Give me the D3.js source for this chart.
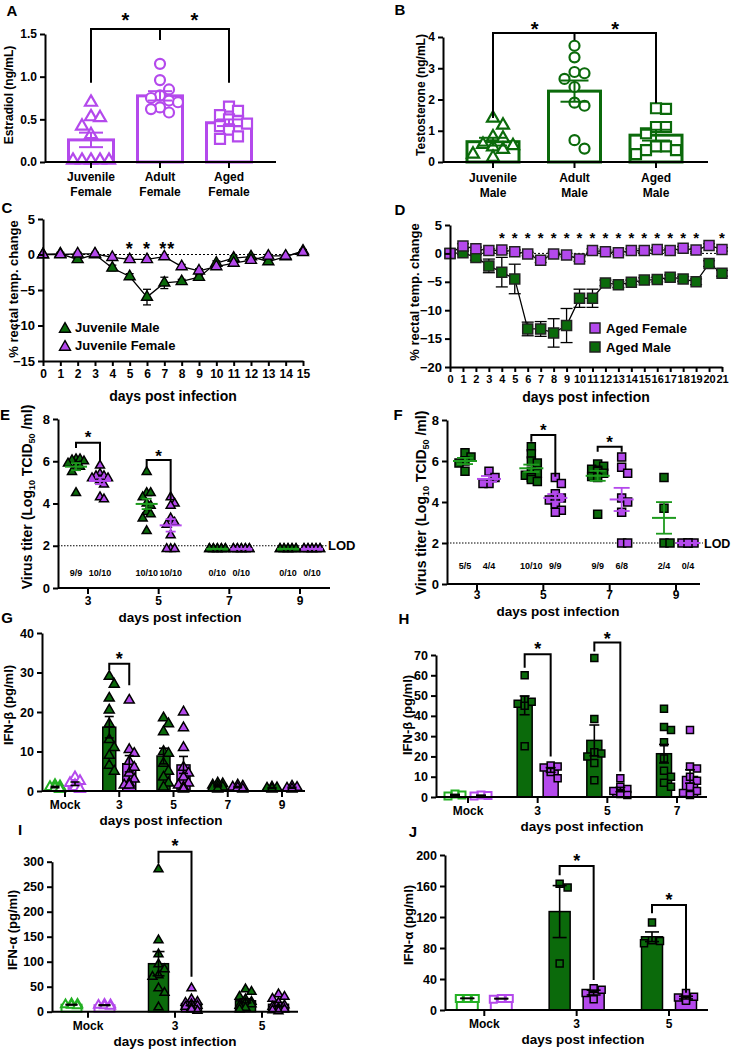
<!DOCTYPE html>
<html><head><meta charset="utf-8">
<script src="https://cdn.jsdelivr.net/npm/d3@7"></script>
<style>body{margin:0;background:#fff}svg{display:block}</style>
</head><body>
<svg id="c" width="731" height="1049"></svg>
<script>
// ---------------- DATA ----------------
// Panel A – Estradiol (ng/mL)
const catsA = ["Juvenile|Female","Adult|Female","Aged|Female"];
const estradiolJuvenile = [0.70,0.53,0.52,0.42,0.32,0.02,0.02,0.02,0.02,0.02];
const estradiolAdult = [1.15,0.96,0.85,0.78,0.75,0.72,0.70,0.64,0.62,0.58];
const estradiolAged = [0.65,0.60,0.55,0.50,0.48,0.45,0.42,0.38,0.30,0.27];
const ticksA = [0,0.5,1.0,1.5];
// Panel B – Testosterone (ng/mL)
const catsB = ["Juvenile|Male","Adult|Male","Aged|Male"];
const testosteroneJuvenile = [1.40,1.18,0.80,0.76,0.56,0.52,0.48,0.40,0.25,0.15];
const testosteroneAdult = [3.72,3.35,2.88,2.84,2.66,2.40,1.90,1.80,0.70,0.43];
const testosteroneAged = [1.72,1.70,1.12,1.12,0.92,0.50,0.50,0.38,0.38,0.25];
const ticksB = [0,1,2,3,4];
// Panel C – % rectal temp change, juvenile
const daysC = [0,1,2,3,4,5,6,7,8,9,10,11,12,13,14,15];
const tempJuvMale = [0,0.1,-0.7,0,-1.9,-3.1,-6.0,-4.0,-3.8,-3.2,-1.2,-0.5,-0.3,-1.0,-0.3,0.5];
const tempJuvMaleSem = [0.1,0.2,0.3,0.2,0.4,0.4,1.1,0.8,0.3,0.3,0.3,0.3,0.3,0.3,0.2,0.2];
const tempJuvFemale = [0,0,0.1,0.1,-0.4,-0.7,-0.7,-0.3,-1.7,-2.3,-1.7,-1.2,-0.8,-0.2,-0.2,0.3];
const tempJuvFemaleSem = [0.1,0.1,0.2,0.2,0.2,0.2,0.2,0.2,0.3,0.3,0.3,0.3,0.2,0.2,0.2,0.2];
const starsC = [5,6,7];
const starTextC = ["*","*","**"];
const ticksCy = [-15,-10,-5,0,5];
// Panel D – % rectal temp change, aged
const daysD = [0,1,2,3,4,5,6,7,8,9,10,11,12,13,14,15,16,17,18,19,20,21];
const tempAgedFemale = [0,1.3,0.8,0.5,0.6,0.3,-0.1,-1.2,-0.1,-0.3,-1.0,0.5,0.3,0.1,0.5,0.5,0.7,0.5,0.9,0.6,1.4,0.7];
const tempAgedFemaleSem = [0.1,0.4,0.3,0.3,0.3,0.3,0.3,0.4,0.3,0.3,0.4,0.3,0.3,0.3,0.3,0.3,0.3,0.3,0.3,0.3,0.3,0.3];
const tempAgedMale = [0,0.1,-0.7,-2.2,-3.3,-4.5,-13.3,-13.3,-14.0,-12.7,-7.9,-7.9,-5.2,-5.5,-5.1,-4.7,-4.6,-4.2,-4.5,-5.0,-1.8,-3.5];
const tempAgedMaleSem = [0.1,0.3,0.5,1.2,2.6,2.6,1.2,1.3,2.5,3.0,1.6,1.6,0.5,0.5,0.4,0.4,0.4,0.4,0.4,0.5,0.5,0.5];
const starsD = [4,5,6,7,8,9,10,11,12,13,14,15,16,17,18,19,21];
const ticksDy = [-20,-15,-10,-5,0,5];
// Panel E – virus titer, juvenile
const titerDays = ["3","5","7","9"];
const titerJuvMale = [[6.1,6.1,6.05,6.0,5.9,5.8,5.75,5.5,4.5],[5.5,4.5,4.5,4.3,4.0,3.9,3.6,3.5,3.3,2.7],
  [1.85,1.85,1.85,1.85,1.85,1.85,1.85,1.85,1.85,1.85],[1.85,1.85,1.85,1.85,1.85,1.85,1.85,1.85,1.85,1.85]];
const titerJuvFemale = [[5.8,5.4,5.3,5.3,5.2,5.2,5.1,4.9,4.3,4.2],[4.3,4.0,3.9,3.3,3.0,3.1,2.5,1.85,1.85,1.85],
  [1.85,1.85,1.85,1.85,1.85,1.85,1.85,1.85,1.85,1.85],[1.85,1.85,1.85,1.85,1.85,1.85,1.85,1.85,1.85,1.85]];
const positiveJuvMale = ["9/9","10/10","0/10","0/10"];
const positiveJuvFemale = ["10/10","10/10","0/10","0/10"];
// Panel F – virus titer, aged
const titerAgedMale = [[6.4,6.2,6.0,5.9,5.5],[6.7,6.35,6.0,5.9,5.5,5.4,5.3,5.2,5.1,5.0],[5.85,5.75,5.6,5.55,5.5,5.4,5.25,5.2,3.4],[5.2,3.7,2.0,2.0]];
const titerAgedFemale = [[5.5,5.2,4.9,4.9],[5.2,4.9,4.4,4.2,4.1,4.0,3.9,3.6,3.5],[6.2,5.7,5.4,4.2,4.0,3.5,2.0,2.0],[2.0,2.0,2.0,2.0]];
const positiveAgedMale = ["5/5","10/10","9/9","2/4"];
const positiveAgedFemale = ["4/4","9/9","6/8","0/4"];
const ticksTiter = [0,2,4,6,8];
const lodValue = 2;
// Panel G – IFN-beta juvenile
const catsG = ["Mock","3","5","7","9"];
const ifnbJuvMale = [[1.5,1.2,1.0,0.8,0.5],[29,27,23.5,20.5,17,13,11,9,6.5,5],[18.5,17,15,10,9.5,7,5,3.5,2,1],[2,1.8,1.5,1.2,1.0,0.8,0.5],[1,0.8,0.7,0.5]];
const ifnbJuvFemale = [[3.5,2.5,2,1.5,1,0.5],[23,10.5,9.5,7.5,6,4.5,3,2,1.5,1.5],[20,16,11,6,4.5,3.5,2,1.5,1,0.5],[1.5,1.2,1.0,0.8,0.5],[1.2,0.9,0.7,0.5]];
const ticksG = [0,10,20,30,40];
// Panel H – IFN-beta aged
const catsH = ["Mock","3","5","7"];
const ifnbAgedMale = [[1.5,1.0,0.5],[60,48,47,46,45,25],[68.5,38.5,22,21.5,20,16.7,8.2],[43.5,34.5,33,27,19,13,10,7,5]];
const ifnbAgedFemale = [[1.0,0.8,0.5],[15.5,15,14.5,12.3,9.3],[9.2,5,4,3,2,1.5,1],[33,15,14,10,8,5,3,2,1]];
const ticksH = [0,10,20,30,40,50,60,70];
// Panel I – IFN-alpha juvenile
const catsI = ["Mock","3","5"];
const ifnaJuvMale = [[16,15,14,13,12],[285,143,115,95,85,73,70,47,38,9],[45,40,30,25,20,18,15,12,8,5]];
const ifnaJuvFemale = [[15,14,13,12,11],[47,25,20,18,15,12,10,8,5,2],[35,30,26,18,13,10,7,5,3,1]];
const ticksI = [0,50,100,150,200,250,300];
// Panel J – IFN-alpha aged
const catsJ = ["Mock","3","5"];
const ifnaAgedMale = [[15,15,15],[163,158,60],[113,90,89,86]];
const ifnaAgedFemale = [[15,15,14],[28,26,22,14],[22,17,16,13,12]];
const ticksJ = [0,40,80,120,160,200];

// ---------------- STYLE / HELPERS ----------------
const GREEN="#0b6a0b", PURPLE="#b449ec", LGREEN="#23b023";
const FONT='"Liberation Sans", Arial, sans-serif';
const svg=d3.select("#c");

function t(x,cy,s,size,anchor){
  return svg.append("text").attr("x",x).attr("y",cy+0.36*size).attr("font-size",size)
    .attr("text-anchor",anchor||"middle").attr("font-weight","bold").attr("font-family",FONT).attr("fill","#000").text(s);
}
function star(x,cy,size){
  svg.append("text").attr("x",x).attr("y",cy+0.57*size).attr("font-size",size).attr("text-anchor","middle")
    .attr("font-weight","bold").attr("font-family",FONT).text("*");
}
function rot(cx,cy,s,size){
  return svg.append("text").attr("transform",`translate(${cx+0.36*size},${cy}) rotate(-90)`)
    .attr("text-anchor","middle").attr("font-size",size).attr("font-weight","bold").attr("font-family",FONT).text(s);
}
function styleAxis(g,size){
  g.attr("font-family",FONT).attr("font-size",size).attr("font-weight","bold");
  g.select(".domain").attr("stroke","#000").attr("stroke-width",2);
  g.selectAll(".tick line").attr("stroke","#000").attr("stroke-width",2);
  g.selectAll(".tick text").attr("fill","#000");
}
function yAxis(x0,y,ticks,fmt,size){
  const g=svg.append("g").attr("transform",`translate(${x0},0)`)
    .call(d3.axisLeft(y).tickValues(ticks).tickFormat(fmt).tickSize(5).tickSizeOuter(0));
  styleAxis(g,size);
}
function catAxis(x,cats,y0,xa,xb,labelCy,size){
  svg.append("line").attr("x1",xa).attr("x2",xb).attr("y1",y0).attr("y2",y0).attr("stroke","#000").attr("stroke-width",2);
  cats.forEach(c=>{
    svg.append("line").attr("x1",x(c)).attr("x2",x(c)).attr("y1",y0).attr("y2",y0+6).attr("stroke","#000").attr("stroke-width",2);
    const parts=c.split("|");
    parts.forEach((p,i)=>t(x(c),labelCy+i*15,p,size));
  });
}
function path(d,w){svg.append("path").attr("d",d).attr("fill","none").attr("stroke","#000").attr("stroke-width",w||2);}
function bracket(xl,xr,yTop,yL,yR,mid){
  path(`M${xl},${yL}V${yTop}H${xr}V${yR}`);
  if(mid) path(`M${mid[0]},${yTop}V${mid[1]}`);
}
const SYM={tri:d3.symbolTriangle,sq:d3.symbolSquare,circ:d3.symbolCircle};
function area(type,w){return type==="tri"?0.433*w*w:type==="sq"?w*w:Math.PI*w*w/4;}
function marker(type,x,y,w,fill,stroke,sw){
  svg.append("path").attr("d",d3.symbol().type(SYM[type]).size(area(type,w))())
    .attr("transform",`translate(${x},${y})`).attr("fill",fill).attr("stroke",stroke).attr("stroke-width",sw);
}
function swarm(vals,y,cx,step,gap,maxOff){
  const placed=[],out=[];
  vals.map(v=>v).sort((a,b)=>b-a).forEach(v=>{
    const py=y(v); let best=cx,bestC=1e9;
    for(let k=0;k<80;k++){
      const off=(k===0?0:(k%2?1:-1)*Math.ceil(k/2))*step;
      if(Math.abs(off)>maxOff) break;
      const px=cx+off;
      const c=placed.filter(p=>Math.abs(p[0]-px)<step*0.999&&Math.abs(p[1]-py)<gap).length;
      if(c===0){best=px;bestC=0;break;}
      if(c<bestC){bestC=c;best=px;}
    }
    placed.push([best,py]); out.push({v,x:best,y:py});
  });
  return out;
}
function sem(v){return v.length>1?d3.deviation(v)/Math.sqrt(v.length):0;}
function errbar(cx,yS,m,s,cap,color,w){
  const y1=yS(m+s),y2=yS(m-s);
  svg.append("line").attr("x1",cx).attr("x2",cx).attr("y1",y1).attr("y2",y2).attr("stroke",color).attr("stroke-width",w);
  [y1,y2].forEach(yy=>svg.append("line").attr("x1",cx-cap/2).attr("x2",cx+cap/2).attr("y1",yy).attr("y2",yy).attr("stroke",color).attr("stroke-width",w));
}

// ---------------- PANEL A ----------------
(function(){
  const y=d3.scaleLinear().domain([0,1.5]).range([162,34]);
  const x=d3.scalePoint().domain(catsA).range([91,229]);
  const groups=[estradiolJuvenile,estradiolAdult,estradiolAged], types=["tri","circ","sq"], sizes=[12,10,10];
  groups.forEach((g,i)=>{
    const cx=x(catsA[i]),m=d3.mean(g);
    svg.append("rect").attr("x",cx-22.5).attr("width",45).attr("y",y(m)).attr("height",y(0)-y(m)).attr("fill","#fff").attr("stroke",PURPLE).attr("stroke-width",3);
  });
  groups.forEach((g,i)=>{
    const cx=x(catsA[i]);
    swarm(g,y,cx,9,10,22).forEach(p=>marker(types[i],p.x,p.y,sizes[i],"#fff",PURPLE,2.2));
    errbar(cx,y,d3.mean(g),sem(g),24,PURPLE,2);
  });
  yAxis(45,y,ticksA,d3.format(".1f"),12);
  catAxis(x,catsA,162,45,276,177,12);
  bracket(x(catsA[0]),x(catsA[2]),y(1.56),y(0.93),y(0.93),[x(catsA[1]),y(1.43)]);
  star((x(catsA[0])+x(catsA[1]))/2,y(1.71),20);
  star((x(catsA[1])+x(catsA[2]))/2,y(1.71),20);
  rot(9,95,"Estradiol  (ng/mL)",12);
  t(12,11,"A",15);
})();

// ---------------- PANEL B ----------------
(function(){
  const y=d3.scaleLinear().domain([0,4]).range([162,37]);
  const x=d3.scalePoint().domain(catsB).range([493,656]);
  const groups=[testosteroneJuvenile,testosteroneAdult,testosteroneAged], types=["tri","circ","sq"], sizes=[12,10,10];
  groups.forEach((g,i)=>{
    const cx=x(catsB[i]),m=d3.mean(g);
    svg.append("rect").attr("x",cx-26).attr("width",52).attr("y",y(m)).attr("height",y(0)-y(m)).attr("fill","#fff").attr("stroke",GREEN).attr("stroke-width",3);
  });
  groups.forEach((g,i)=>{
    const cx=x(catsB[i]);
    swarm(g,y,cx,10,10,24).forEach(p=>marker(types[i],p.x,p.y,sizes[i],"#fff",GREEN,2.2));
    errbar(cx,y,d3.mean(g),sem(g),28,GREEN,2);
  });
  yAxis(443,y,ticksB,d3.format("d"),12);
  catAxis(x,catsB,162,443,708,178,12);
  bracket(x(catsB[0]),x(catsB[2]),y(4.13),y(1.41),y(1.89),[x(catsB[1]),y(3.9)]);
  star((x(catsB[0])+x(catsB[1]))/2+1,y(4.4),20);
  star((x(catsB[1])+x(catsB[2]))/2,y(4.4),20);
  rot(421,95,"Testosterone (ng/mL)",12);
  t(400,10,"B",15);
})();

// ---------------- PANEL C ----------------
(function(){
  const x=d3.scaleLinear().domain([0,15]).range([43,303]);
  const y=d3.scaleLinear().domain([-15,5]).range([361,219]);
  svg.append("line").attr("x1",43).attr("x2",303).attr("y1",y(0)).attr("y2",y(0)).attr("stroke","#000").attr("stroke-width",1).attr("stroke-dasharray","2,2");
  const line=d3.line().x((d,i)=>x(daysC[i])).y(d=>y(d));
  [[tempJuvMale,tempJuvMaleSem,GREEN],[tempJuvFemale,tempJuvFemaleSem,PURPLE]].forEach(([v,s,col])=>{
    svg.append("path").attr("d",line(v)).attr("fill","none").attr("stroke","#000").attr("stroke-width",1.3);
    v.forEach((d,i)=>errbar(x(daysC[i]),y,d,s[i],8,"#000",1.3));
  });
  [[tempJuvMale,GREEN],[tempJuvFemale,PURPLE]].forEach(([v,col])=>{
    v.forEach((d,i)=>marker("tri",x(daysC[i]),y(d),11,col,"#000",1.4));
  });
  yAxis(43,y,ticksCy,d3.format("d"),13);
  const gx=svg.append("g").attr("transform","translate(0,361)").call(d3.axisBottom(x).tickValues(daysC).tickSize(5).tickSizeOuter(0));
  styleAxis(gx,12);
  starsC.forEach((d,i)=>{ svg.append("text").attr("x",x(d)+(i===2?3:0)).attr("y",245+0.57*18).attr("font-size",18).attr("text-anchor","middle").attr("font-weight","bold").attr("font-family",FONT).attr("letter-spacing",1).text(starTextC[i]); });
  marker("tri",65,329,11,GREEN,"#000",1.4);
  marker("tri",65,347,11,PURPLE,"#000",1.4);
  t(75,327,"Juvenile Male",13,"start");
  t(75,345,"Juvenile Female",13,"start");
  t(173,396,"days post infection",14);
  rot(13,289,"% rectal temp. change",13);
  t(7,208,"C",15);
})();

// ---------------- PANEL D ----------------
(function(){
  const x=d3.scaleLinear().domain([0,21]).range([450,722]);
  const y=d3.scaleLinear().domain([-20,5]).range([367,225]);
  svg.append("line").attr("x1",450).attr("x2",722).attr("y1",y(0)).attr("y2",y(0)).attr("stroke","#000").attr("stroke-width",1).attr("stroke-dasharray","2,2");
  const line=d3.line().x((d,i)=>x(daysD[i])).y(d=>y(d));
  [[tempAgedMale,tempAgedMaleSem],[tempAgedFemale,tempAgedFemaleSem]].forEach(([v,s])=>{
    svg.append("path").attr("d",line(v)).attr("fill","none").attr("stroke","#000").attr("stroke-width",1.3);
    v.forEach((d,i)=>errbar(x(daysD[i]),y,d,s[i],12,"#000",1.3));
  });
  [[tempAgedMale,GREEN],[tempAgedFemale,PURPLE]].forEach(([v,col])=>{
    v.forEach((d,i)=>marker("sq",x(daysD[i]),y(d),10,col,"#222",1.5));
  });
  yAxis(450,y,ticksDy,d3.format("d"),13);
  const gx=svg.append("g").attr("transform","translate(0,367)").call(d3.axisBottom(x).tickValues(daysD).tickSize(5).tickSizeOuter(0));
  styleAxis(gx,11);
  starsD.forEach(d=>star(x(d),234,15));
  marker("sq",595,328,10,PURPLE,"#222",1.5);
  marker("sq",595,347,10,GREEN,"#222",1.5);
  t(606,328,"Aged Female",13,"start");
  t(606,347,"Aged Male",13,"start");
  t(586,397,"days post infection",14);
  rot(414,292,"% rectal temp. change",13);
  t(400,210,"D",15);
})();

// ---------------- PANELS E/F (scatter titer) ----------------
function titerPanel(o){
  const y=d3.scaleLinear().domain([0,8]).range(o.yr);
  const x=d3.scalePoint().domain(titerDays).range(o.xr);
  svg.append("line").attr("x1",o.x0).attr("x2",o.lodEnd).attr("y1",y(lodValue)).attr("y2",y(lodValue)).attr("stroke","#000").attr("stroke-width",1).attr("stroke-dasharray","1.5,1.5");
  t(o.lodEnd+1,y(lodValue),"LOD",o.lodSize,"start");
  [[o.male,GREEN,-o.off,o.posM,"#1d9a1d"],[o.female,PURPLE,o.off,o.posF,PURPLE]].forEach(([arr,col,off,pos,lc])=>{
    arr.forEach((g,i)=>{
      const cx=x(titerDays[i])+off;
      swarm(g,y,cx,o.step,o.gap,o.maxOff).forEach(p=>marker(o.type,p.x,p.y,o.size,col,"#000",1.5));
      const m=d3.mean(g),s=sem(g);
      if(s>0.05) errbar(cx,y,m,s,o.cap,lc,1.8);
      svg.append("line").attr("x1",cx-o.meanW/2).attr("x2",cx+o.meanW/2).attr("y1",y(m)).attr("y2",y(m)).attr("stroke",lc).attr("stroke-width",2);
      t(cx,o.countY,pos[i],9);
    });
  });
  yAxis(o.x0,y,ticksTiter,d3.format("d"),13);
  catAxis(x,titerDays,o.yr[0],o.x0,o.x1,o.labelY,12);
  o.brackets.forEach(b=>{
    const xl=x(titerDays[b.i])-o.off, xr=x(titerDays[b.i])+o.off;
    bracket(xl,xr,y(b.top),y(b.l),y(b.r));
    star(x(titerDays[b.i]),y(b.s),17);
  });
  const lab=svg.append("text").attr("transform",`translate(${o.ylabX+5},${o.ylabY}) rotate(-90)`).attr("text-anchor","middle")
    .attr("font-size",14).attr("font-weight","bold").attr("font-family",FONT);
  lab.append("tspan").text("Virus titer (Log");
  lab.append("tspan").attr("font-size",9).attr("dy",3).text("10");
  lab.append("tspan").attr("dy",-3).text(" TCID");
  lab.append("tspan").attr("font-size",9).attr("dy",3).text("50");
  lab.append("tspan").attr("dy",-3).text(" /ml)");
  t(o.titleX,o.titleY,"days post infection",13.5);
  t(o.letX,o.letY,o.letter,15);
}
titerPanel({yr:[588,419],xr:[88,300],x0:58,x1:330,lodEnd:327,lodSize:13,off:12,male:titerJuvMale,female:titerJuvFemale,
  posM:positiveJuvMale,posF:positiveJuvFemale,type:"tri",size:9,step:4,gap:8,maxOff:10,cap:10,meanW:22,countY:573,labelY:600.5,
  brackets:[{i:0,top:6.88,l:6.63,r:5.98,s:7.34},{i:1,top:6.06,l:5.73,r:4.17,s:6.44}],
  ylabX:27,ylabY:497,titleX:180,titleY:617,letX:5,letY:415,letter:"E"});
titerPanel({yr:[584,420],xr:[477,676],x0:447,x1:700,lodEnd:703,lodSize:12.5,off:12,male:titerAgedMale,female:titerAgedFemale,
  posM:positiveAgedMale,posF:positiveAgedFemale,type:"sq",size:8,step:6,gap:7,maxOff:9,cap:16,meanW:24,countY:566,labelY:595,
  brackets:[{i:1,top:7.27,l:6.94,r:5.23,s:7.67},{i:2,top:6.7,l:6.45,r:6.45,s:7.12}],
  ylabX:421,ylabY:503,titleX:558,titleY:611.5,letX:398,letY:415,letter:"F"});

// ---------------- PANELS G–J (bars + scatter) ----------------
function barPanel(o){
  const y=d3.scaleLinear().domain([0,o.ymax]).range(o.yr);
  const x=d3.scalePoint().domain(o.cats).range(o.xr);
  [[o.male,GREEN,LGREEN,-o.off],[o.female,PURPLE,PURPLE,o.off]].forEach(([arr,col,mockCol,off])=>{
    arr.forEach((g,i)=>{
      const cx=x(o.cats[i])+off, m=d3.mean(g), mock=i===0;
      svg.append("rect").attr("x",cx-o.bw/2).attr("width",o.bw).attr("y",y(m)).attr("height",y(0)-y(m))
        .attr("fill",mock?"#fff":col).attr("stroke",mock?mockCol:"#000").attr("stroke-width",mock?2:1.5);
    });
  });
  [[o.male,GREEN,LGREEN,-o.off],[o.female,PURPLE,PURPLE,o.off]].forEach(([arr,col,mockCol,off])=>{
    arr.forEach((g,i)=>{
      const cx=x(o.cats[i])+off, mock=i===0;
      swarm(g,y,cx,o.step,o.gap,o.maxOff).forEach(p=>marker(o.type,p.x,p.y,o.size,mock?"#fff":col,mock?mockCol:"#000",mock?2:1.5));
      errbar(cx,y,d3.mean(g),sem(g),o.cap,"#000",1.6);
    });
  });
  yAxis(o.x0,y,o.ticks,d3.format("d"),12.5);
  catAxis(x,o.cats,o.yr[0],o.x0,o.x1,o.labelY,12);
  o.brackets.forEach(b=>{
    const xl=x(o.cats[b.i])-o.off, xr=x(o.cats[b.i])+o.off;
    bracket(xl,xr,y(b.top),y(b.l),y(b.r));
    star(x(o.cats[b.i]),y(b.s),18);
  });
  rot(o.ylabX,o.ylabY,o.ylab,13);
  t(o.titleX,o.titleY,"days post infection",13.5);
  t(o.letX,o.letY,o.letter,15);
}
barPanel({cats:catsG,male:ifnbJuvMale,female:ifnbJuvFemale,ymax:40,yr:[791,633],xr:[65,282],x0:42,x1:305,off:10,bw:13,
  type:"tri",size:10,step:5,gap:8,maxOff:5,cap:9,ticks:ticksG,labelY:805,
  brackets:[{i:1,top:32.2,l:30.6,r:26.8,s:34.4}],ylabX:8,ylabY:705,ylab:"IFN-β (pg/ml)",titleX:161,titleY:820.5,letX:7,letY:618,letter:"G"});
barPanel({cats:catsH,male:ifnbAgedMale,female:ifnbAgedFemale,ymax:70,yr:[797,655],xr:[468,677],x0:436,x1:707,off:13,bw:15,
  type:"sq",size:7,step:7,gap:7,maxOff:8,cap:10,ticks:ticksH,labelY:810.5,
  brackets:[{i:1,top:70.4,l:63.7,r:20,s:75},{i:2,top:76.2,l:71.7,r:12.6,s:80}],ylabX:407,ylabY:715,ylab:"IFN-β (pg/ml)",titleX:582,titleY:826.5,letX:404,letY:619,letter:"H"});
barPanel({cats:catsI,male:ifnaJuvMale,female:ifnaJuvFemale,ymax:300,yr:[1011.7,861.7],xr:[88,262],x0:52,x1:298,off:16.5,bw:20,
  type:"tri",size:9,step:6,gap:8,maxOff:10,cap:12,ticks:ticksI,labelY:1025.5,
  brackets:[{i:1,top:320,l:297,r:70,s:340}],ylabX:12.5,ylabY:930,ylab:"IFN-α (pg/ml)",titleX:175,titleY:1041.5,letX:20,letY:830,letter:"I"});
barPanel({cats:catsJ,male:ifnaAgedMale,female:ifnaAgedFemale,ymax:200,yr:[1010,855],xr:[484.3,669],x0:445,x1:708,off:17,bw:21,
  type:"sq",size:7,step:8,gap:7,maxOff:9,cap:14,ticks:ticksJ,labelY:1023.5,
  brackets:[{i:1,top:185.8,l:174,r:38.7,s:198},{i:2,top:135.5,l:124.8,r:22.3,s:147}],ylabX:408,ylabY:925,ylab:"IFN-α (pg/ml)",titleX:583,titleY:1039.5,letX:413,letY:832,letter:"J"});
</script>
</body></html>
